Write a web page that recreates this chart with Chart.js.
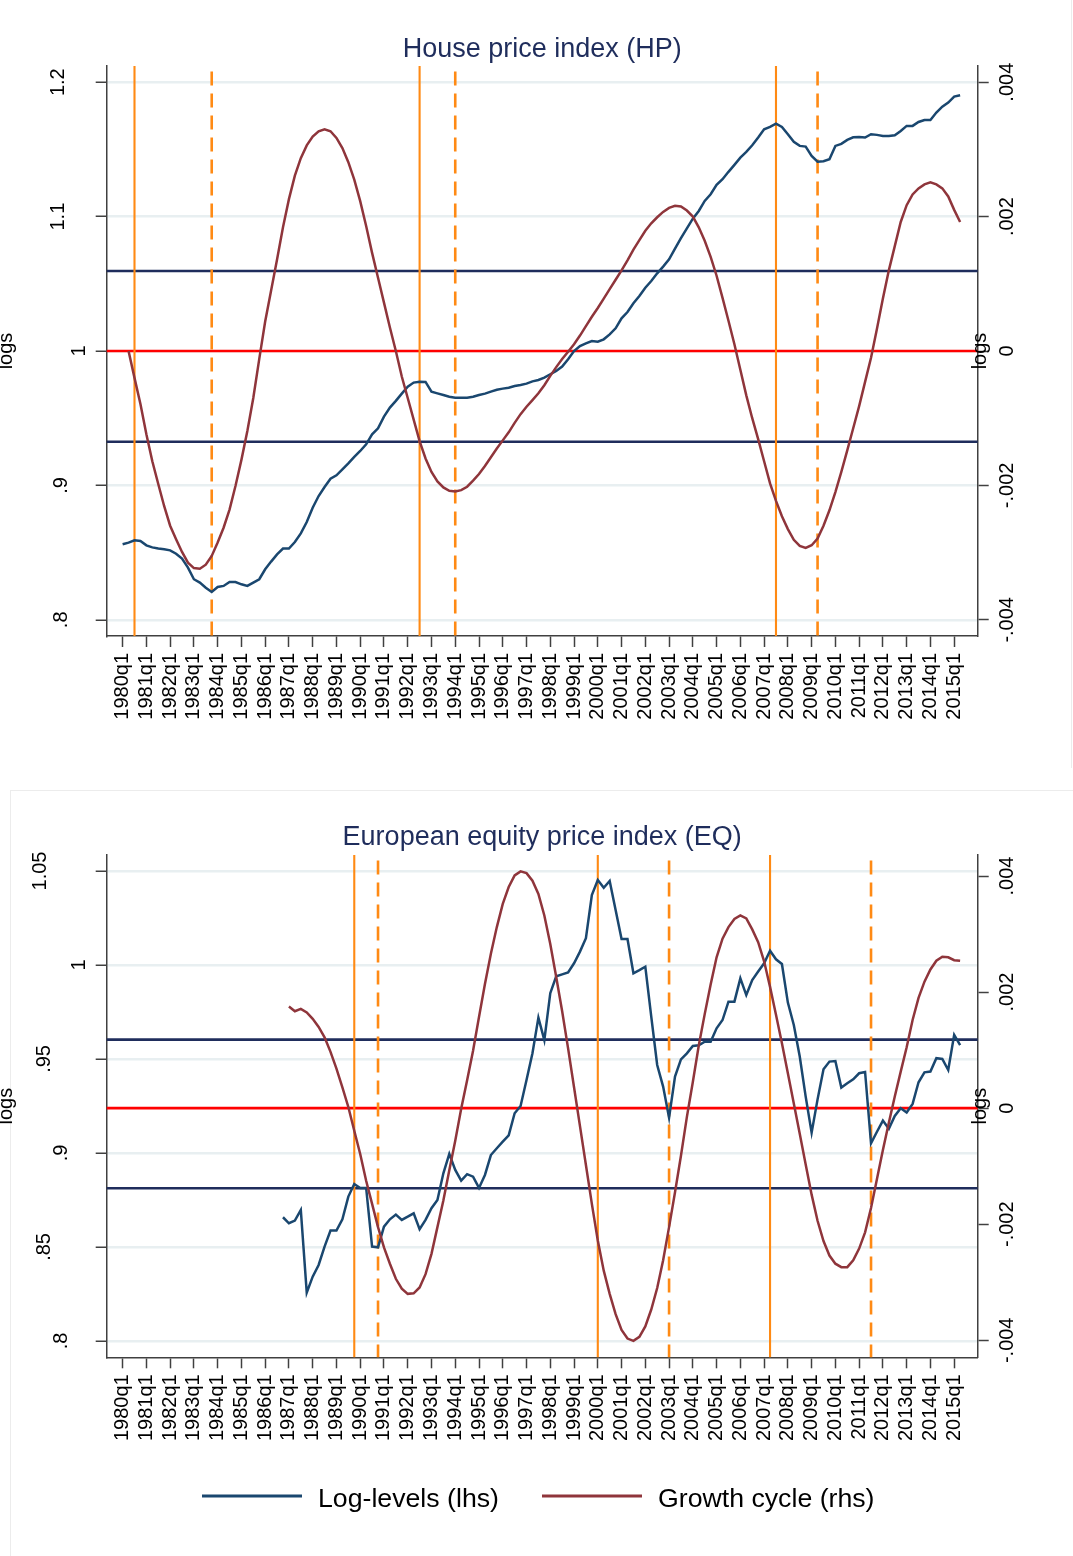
<!DOCTYPE html>
<html>
<head>
<meta charset="utf-8">
<title>House price and equity price cycles</title>
<script src="https://cdn.jsdelivr.net/npm/chart.js@4/dist/chart.umd.min.js"></script>
<style>
  html, body { margin: 0; padding: 0; background: #ffffff; }
  body { width: 1073px; height: 1556px; position: relative; overflow: hidden; }
  canvas { position: absolute; left: 0; }
  #hpChart { top: 0; }
  #eqChart { top: 780px; }
  .panel-top { position: absolute; left: 0; top: 0; width: 1071px; height: 768px; border-right: 1px solid #ececec; }
  .panel-bottom { position: absolute; left: 10px; top: 790px; width: 1063px; height: 766px; border-left: 1px solid #ececec; border-top: 1px solid #ececec; }
</style>
</head>
<body>
<div class="panel-top"></div>
<div class="panel-bottom"></div>
<canvas id="hpChart" width="1073" height="770"></canvas>
<canvas id="eqChart" width="1073" height="776"></canvas>
<script>
// ---------- categories ----------
const quarters = [];
for (let y = 1980; y <= 2015; y++) for (let q = 1; q <= 4; q++) quarters.push(y + 'q' + q);
const yearTickLabels = quarters.filter(s => s.endsWith('q1'));

// ---------- House price index (HP) ----------
const hpLevelStart = '1980q1';
const hpLevels = [
  0.8562,0.8574,0.8592,0.8587,0.8554,0.8539,0.8530,0.8525,0.8517,0.8492,
  0.8455,0.8388,0.8302,0.8277,0.8239,0.8207,0.8244,0.8252,0.8281,0.8281,
  0.8264,0.8252,0.8277,0.8302,0.8376,0.8433,0.8487,0.8530,0.8530,0.8579,
  0.8643,0.8728,0.8834,0.8921,0.8988,0.9050,0.9075,0.9120,0.9164,0.9212,
  0.9256,0.9306,0.9380,0.9425,0.9512,0.9579,0.9629,0.9683,0.9735,0.9765,
  0.9772,0.9770,0.9698,0.9685,0.9673,0.9660,0.9653,0.9653,0.9653,0.9660,
  0.9673,0.9683,0.9698,0.9712,0.9720,0.9727,0.9740,0.9747,0.9757,0.9774,
  0.9784,0.9802,0.9827,0.9852,0.9884,0.9938,1.0000,1.0037,1.0057,1.0074,
  1.0069,1.0087,1.0124,1.0169,1.0243,1.0290,1.0355,1.0409,1.0471,1.0521,
  1.0578,1.0628,1.0682,1.0762,1.0839,1.0913,1.0985,1.1042,1.1117,1.1166,
  1.1236,1.1278,1.1333,1.1385,1.1439,1.1481,1.1531,1.1588,1.1650,1.1667,
  1.1692,1.1667,1.1613,1.1556,1.1526,1.1521,1.1452,1.1409,1.1412,1.1427,
  1.1526,1.1541,1.1571,1.1590,1.1593,1.1588,1.1613,1.1608,1.1600,1.1600,
  1.1605,1.1637,1.1675,1.1675,1.1704,1.1719,1.1719,1.1774,1.1818,1.1848,
  1.1893,1.1903
];
const hpCycleStart = '1980q2';
const hpCycle = [
  0.00000,-0.00040,-0.00079,-0.00124,-0.00164,-0.00198,-0.00231,-0.00260,-0.00280,-0.00299,
  -0.00315,-0.00323,-0.00324,-0.00318,-0.00305,-0.00285,-0.00263,-0.00236,-0.00201,-0.00162,
  -0.00119,-0.00070,-0.00012,0.00044,0.00090,0.00136,0.00184,0.00226,0.00261,0.00287,
  0.00306,0.00319,0.00327,0.00330,0.00327,0.00317,0.00302,0.00281,0.00255,0.00223,
  0.00186,0.00146,0.00109,0.00072,0.00035,0.00000,-0.00038,-0.00070,-0.00102,-0.00134,
  -0.00160,-0.00180,-0.00194,-0.00203,-0.00208,-0.00209,-0.00207,-0.00202,-0.00193,-0.00183,
  -0.00171,-0.00158,-0.00145,-0.00133,-0.00121,-0.00107,-0.00094,-0.00083,-0.00073,-0.00063,
  -0.00051,-0.00037,-0.00024,-0.00012,-0.00001,0.00010,0.00023,0.00037,0.00051,0.00064,
  0.00078,0.00092,0.00106,0.00120,0.00135,0.00151,0.00165,0.00179,0.00190,0.00199,
  0.00207,0.00213,0.00216,0.00215,0.00209,0.00200,0.00184,0.00164,0.00140,0.00112,
  0.00079,0.00045,0.00010,-0.00028,-0.00066,-0.00100,-0.00131,-0.00164,-0.00197,-0.00223,
  -0.00246,-0.00265,-0.00281,-0.00290,-0.00293,-0.00289,-0.00279,-0.00260,-0.00237,-0.00210,
  -0.00180,-0.00148,-0.00115,-0.00082,-0.00046,-0.00010,0.00033,0.00078,0.00120,0.00156,
  0.00192,0.00217,0.00233,0.00242,0.00248,0.00251,0.00248,0.00242,0.00230,0.00210,
  0.00192
];
const hpBands = [0.00119, -0.00135];
const hpPeaks = ['1980q3', '1992q3', '2007q3'];
const hpTroughs = ['1983q4', '1994q1', '2009q2'];
const hpLeftTicks = [0.8, 0.9, 1, 1.1, 1.2];
const hpLeftLabels = ['.8', '.9', '1', '1.1', '1.2'];

// ---------- European equity price index (EQ) ----------
const eqLevelStart = '1986q4';
const eqLevels = [
  0.8658,0.8626,0.8640,0.8697,0.8257,0.8342,0.8404,0.8502,0.8587,0.8587,
  0.8647,0.8768,0.8835,0.8814,0.8814,0.8502,0.8498,0.8608,0.8647,0.8672,
  0.8644,0.8661,0.8679,0.8594,0.8644,0.8706,0.8750,0.8892,0.8995,0.8910,
  0.8853,0.8887,0.8874,0.8814,0.8883,0.8989,0.9025,0.9060,0.9094,0.9211,
  0.9250,0.9388,0.9530,0.9720,0.9600,0.9850,0.9940,0.9950,0.9960,1.0009,
  1.0071,1.0142,1.0372,1.0452,1.0411,1.0447,1.0293,1.0138,1.0138,0.9956,
  0.9973,0.9991,0.9725,0.9468,0.9353,0.9188,0.9406,0.9498,0.9530,0.9569,
  0.9573,0.9592,0.9592,0.9663,0.9707,0.9805,0.9805,0.9929,0.9840,0.9920,
  0.9965,1.0009,1.0076,1.0030,1.0005,0.9800,0.9681,0.9513,0.9300,0.9108,
  0.9285,0.9445,0.9486,0.9489,0.9348,0.9371,0.9392,0.9424,0.9431,0.9051,
  0.9113,0.9172,0.9129,0.9197,0.9238,0.9215,0.9261,0.9376,0.9429,0.9433,
  0.9504,0.9500,0.9441,0.9628,0.9574
];
const eqCycleStart = '1987q1';
const eqCycle = [
  0.00175,0.00167,0.00171,0.00165,0.00154,0.00140,0.00122,0.00097,0.00068,0.00036,
  0.00002,-0.00039,-0.00079,-0.00125,-0.00165,-0.00205,-0.00240,-0.00268,-0.00294,-0.00311,
  -0.00320,-0.00319,-0.00309,-0.00286,-0.00251,-0.00205,-0.00159,-0.00107,-0.00056,-0.00001,
  0.00048,0.00099,0.00157,0.00214,0.00266,0.00312,0.00352,0.00381,0.00401,0.00408,
  0.00405,0.00392,0.00369,0.00332,0.00283,0.00226,0.00167,0.00103,0.00036,-0.00031,
  -0.00098,-0.00165,-0.00228,-0.00280,-0.00320,-0.00355,-0.00382,-0.00397,-0.00401,-0.00394,
  -0.00376,-0.00347,-0.00310,-0.00262,-0.00205,-0.00145,-0.00082,-0.00015,0.00045,0.00108,
  0.00162,0.00213,0.00260,0.00292,0.00312,0.00326,0.00332,0.00327,0.00308,0.00286,
  0.00253,0.00209,0.00161,0.00112,0.00060,0.00008,-0.00044,-0.00097,-0.00149,-0.00194,
  -0.00229,-0.00254,-0.00268,-0.00274,-0.00274,-0.00262,-0.00242,-0.00214,-0.00172,-0.00122,
  -0.00072,-0.00025,0.00020,0.00063,0.00105,0.00152,0.00190,0.00218,0.00239,0.00254,
  0.00261,0.00260,0.00255,0.00254
];
const eqBands = [0.00118, -0.00138];
const eqPeaks = ['1989q4', '2000q1', '2007q2'];
const eqTroughs = ['1990q4', '2003q1', '2011q3'];
const eqLeftTicks = [0.8, 0.85, 0.9, 0.95, 1, 1.05];
const eqLeftLabels = ['.8', '.85', '.9', '.95', '1', '1.05'];

// shared right-hand axis
const rightTicks = [-0.004, -0.002, 0, 0.002, 0.004];
const rightLabels = ['-.004', '-.002', '0', '.002', '.004'];

const seriesNames = ['Log-levels (lhs)', 'Growth cycle (rhs)'];

// ---------- styling ----------
const FONT = '"Liberation Sans", Arial, Helvetica, sans-serif';
const AXIS = '#404040';
const GRID = '#e8eff1';
const LEVEL_COLOR = '#1a476f';
const CYCLE_COLOR = '#8f353b';
const BAND_COLOR = '#1f2d5c';
const TITLE_COLOR = '#1f2d5c';
const TURN_COLOR = '#ff8a14';

Chart.defaults.font.family = FONT;

function seriesPoints(start, values) {
  const s = quarters.indexOf(start);
  return values.map((v, k) => ({ x: s + k, y: v }));
}

function drawRotated(ctx, text, cx, cy, baselineShift) {
  ctx.save();
  ctx.translate(cx + baselineShift, cy);
  ctx.rotate(-Math.PI / 2);
  ctx.textAlign = 'center';
  ctx.textBaseline = 'alphabetic';
  ctx.fillText(text, 0, 0);
  ctx.restore();
}

const decor = {
  id: 'decor',
  beforeDatasetsDraw(chart, _args, o) {
    const { ctx, chartArea: a, scales } = chart;
    const yr = scales.yR, xs = scales.x;
    ctx.save();
    const hline = (v, color) => {
      const y = yr.getPixelForValue(v);
      ctx.strokeStyle = color; ctx.lineWidth = 2.6; ctx.setLineDash([]);
      ctx.beginPath(); ctx.moveTo(a.left, y); ctx.lineTo(a.right, y); ctx.stroke();
    };
    o.bands.forEach(v => hline(v, BAND_COLOR));
    hline(0, '#ff0000');
    const vline = (q, dashed) => {
      const x = xs.getPixelForValue(quarters.indexOf(q));
      ctx.strokeStyle = TURN_COLOR;
      ctx.lineWidth = dashed ? 2.6 : 2.1;
      ctx.setLineDash(dashed ? [14, 8] : []);
      ctx.beginPath(); ctx.moveTo(x, a.top + (dashed ? 5.5 : 0)); ctx.lineTo(x, a.bottom); ctx.stroke();
    };
    o.peaks.forEach(q => vline(q, false));
    o.troughs.forEach(q => vline(q, true));
    ctx.restore();
  },
  afterDraw(chart, _args, o) {
    const { ctx, chartArea: a, scales } = chart;
    ctx.save();
    // chart title
    ctx.fillStyle = TITLE_COLOR;
    ctx.font = '27px ' + FONT;
    ctx.textAlign = 'center';
    ctx.textBaseline = 'alphabetic';
    ctx.fillText(o.title, (a.left + a.right) / 2, o.titleBaseline);

    // vertical tick labels
    ctx.fillStyle = '#000000';
    ctx.font = '20px ' + FONT;
    o.leftTicks.forEach((v, k) => {
      const lab = o.leftLabels[k];
      drawRotated(ctx, lab, o.leftLabelX[lab], scales.yL.getPixelForValue(v), 7.2);
    });
    rightTicks.forEach((v, k) => {
      drawRotated(ctx, rightLabels[k], 1006, scales.yR.getPixelForValue(v), 7.2);
    });

    // axis titles
    const midY = (a.top + a.bottom) / 2;
    drawRotated(ctx, 'logs', 8, midY, 4.2);
    drawRotated(ctx, 'logs', 982, midY, 4.2);

    // legend
    if (o.legend) {
      const items = [
        { x: 202, color: LEVEL_COLOR, text: seriesNames[0] },
        { x: 542, color: CYCLE_COLOR, text: seriesNames[1] }
      ];
      ctx.font = '26.7px ' + FONT;
      ctx.textAlign = 'left';
      items.forEach(it => {
        ctx.strokeStyle = it.color; ctx.lineWidth = 3; ctx.setLineDash([]);
        ctx.beginPath(); ctx.moveTo(it.x, o.legendY); ctx.lineTo(it.x + 100, o.legendY); ctx.stroke();
        ctx.fillStyle = '#000000';
        ctx.fillText(it.text, it.x + 116, o.legendY + 10.5);
      });
    }
    ctx.restore();
  }
};

function build(canvasId, cfg) {
  const canvas = document.getElementById(canvasId);
  const H = canvas.height;
  return new Chart(canvas, {
    type: 'line',
    data: {
      datasets: [
        {
          label: seriesNames[1], data: seriesPoints(cfg.cycleStart, cfg.cycle), yAxisID: 'yR',
          borderColor: CYCLE_COLOR, borderWidth: 2.5, pointRadius: 0, tension: 0, fill: false, order: 0
        },
        {
          label: seriesNames[0], data: seriesPoints(cfg.levelStart, cfg.levels), yAxisID: 'yL',
          borderColor: LEVEL_COLOR, borderWidth: 2.5, pointRadius: 0, tension: 0, fill: false, order: 1
        }
      ]
    },
    options: {
      responsive: false,
      maintainAspectRatio: false,
      animation: false,
      devicePixelRatio: 1,
      layout: { padding: { top: cfg.plotTop, left: 0, right: 0, bottom: 0 } },
      plugins: {
        legend: { display: false },
        tooltip: { enabled: false },
        decor: {
          title: cfg.title, titleBaseline: cfg.titleBaseline,
          bands: cfg.bands, peaks: cfg.peaks, troughs: cfg.troughs,
          leftTicks: cfg.leftTicks, leftLabels: cfg.leftLabels, leftLabelX: cfg.leftLabelX,
          legend: cfg.legend, legendY: cfg.legendY
        }
      },
      scales: {
        x: {
          type: 'linear',
          min: -2.68, max: 143.96,
          afterBuildTicks: s => { s.ticks = yearTickLabels.map(l => ({ value: quarters.indexOf(l) })); },
          ticks: {
            autoSkip: false, minRotation: 90, maxRotation: 90, padding: 6,
            color: '#000000', font: { size: 20, family: FONT },
            callback: v => quarters[v]
          },
          grid: { drawOnChartArea: false, drawTicks: true, tickLength: 11, tickColor: AXIS, tickWidth: 1.5 },
          border: { display: true, color: AXIS, width: 1.5 },
          afterFit: s => { s.height = H - cfg.plotBottom; }
        },
        yL: {
          type: 'linear', position: 'left',
          min: cfg.leftMin, max: cfg.leftMax,
          afterBuildTicks: s => { s.ticks = cfg.leftTicks.map(v => ({ value: v })); },
          ticks: { display: false },
          grid: { color: GRID, lineWidth: 2.5, drawTicks: true, tickLength: 11, tickColor: AXIS, tickWidth: 1.5 },
          border: { display: true, color: AXIS, width: 1.5 },
          afterFit: s => { s.width = 106.7; }
        },
        yR: {
          type: 'linear', position: 'right',
          min: cfg.rightMin, max: cfg.rightMax,
          afterBuildTicks: s => { s.ticks = rightTicks.map(v => ({ value: v })); },
          ticks: { display: false },
          grid: { drawOnChartArea: false, drawTicks: true, tickLength: 11, tickColor: AXIS, tickWidth: 1.5 },
          border: { display: true, color: AXIS, width: 1.5 },
          afterFit: s => { s.width = 1073 - 977.7; }
        }
      }
    },
    plugins: [decor]
  });
}

build('hpChart', {
  title: 'House price index (HP)', titleBaseline: 56.7,
  levels: hpLevels, levelStart: hpLevelStart, cycle: hpCycle, cycleStart: hpCycleStart,
  bands: hpBands, peaks: hpPeaks, troughs: hpTroughs,
  leftTicks: hpLeftTicks, leftLabels: hpLeftLabels,
  leftLabelX: { '.8': 60, '.9': 60, '1': 78, '1.1': 57, '1.2': 57 },
  leftMin: 0.78795, leftMax: 1.21205, rightMin: -0.004241, rightMax: 0.004241,
  plotTop: 66, plotBottom: 636, legend: false
});

build('eqChart', {
  title: 'European equity price index (EQ)', titleBaseline: 65,
  levels: eqLevels, levelStart: eqLevelStart, cycle: eqCycle, cycleStart: eqCycleStart,
  bands: eqBands, peaks: eqPeaks, troughs: eqTroughs,
  leftTicks: eqLeftTicks, leftLabels: eqLeftLabels,
  leftLabelX: { '.8': 60, '.85': 43, '.9': 60, '.95': 43, '1': 78, '1.05': 39 },
  leftMin: 0.7913, leftMax: 1.0585, rightMin: -0.004293, rightMax: 0.004362,
  plotTop: 75, plotBottom: 577.3, legend: true, legendY: 716
});
</script>
</body>
</html>
